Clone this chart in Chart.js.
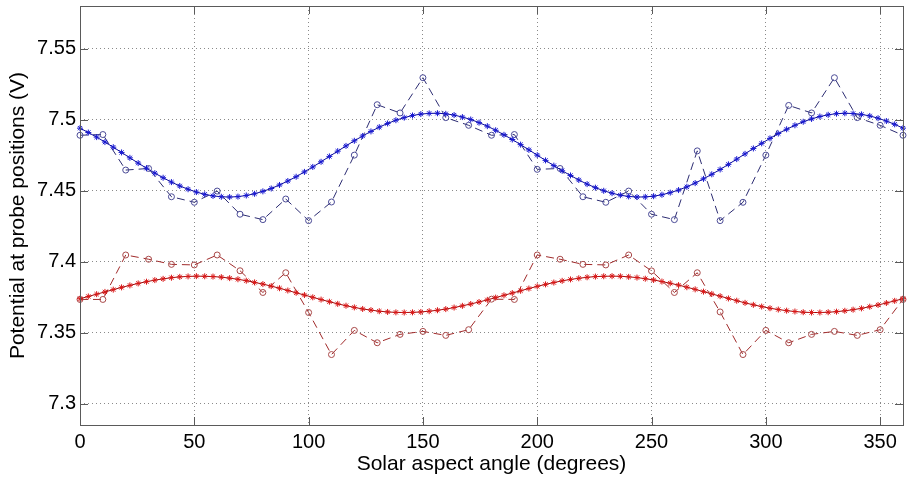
<!DOCTYPE html>
<html>
<head>
<meta charset="utf-8">
<script src="https://cdn.jsdelivr.net/npm/chart.js@4.4.1/dist/chart.umd.min.js"></script>
<style>
  html, body { margin: 0; padding: 0; background: #fff; }
  #plot { display: block; }
</style>
</head>
<body>
<canvas id="plot" width="908" height="477"></canvas>
<script>
// measured every 10 degrees
var angleMeasured = [0, 10, 20, 30, 40, 50, 60, 70, 80, 90, 100, 110, 120, 130, 140, 150, 160, 170, 180,
    190, 200, 210, 220, 230, 240, 250, 260, 270, 280, 290, 300, 310, 320, 330, 340, 350, 360];
var probe1Measured = [7.489, 7.4895, 7.4645, 7.4656, 7.4457, 7.4418, 7.4497, 7.4334, 7.4296, 7.4441, 7.4289,
    7.442, 7.475, 7.5105, 7.5047, 7.5295, 7.5014, 7.496, 7.489, 7.4895, 7.465, 7.4656, 7.4457, 7.4418, 7.4497,
    7.4334, 7.4296, 7.478, 7.4289, 7.4418, 7.475, 7.51, 7.5047, 7.5295, 7.5014, 7.496, 7.489];
var probe2Measured = [7.3734, 7.3734, 7.4047, 7.4017, 7.3981, 7.3977, 7.4047, 7.3936, 7.3783, 7.3922, 7.3642,
    7.3346, 7.3516, 7.3429, 7.3488, 7.3509, 7.3481, 7.3521, 7.3736, 7.3734, 7.4047, 7.4017, 7.3981, 7.3977,
    7.4047, 7.3935, 7.3783, 7.3922, 7.3646, 7.3346, 7.3516, 7.3429, 7.3488, 7.3509, 7.3481, 7.3521, 7.3734];

// fitted curves (star markers)
var angleFit = [0, 3.64, 7.27, 10.91, 14.55, 18.18, 21.82, 25.45, 29.09, 32.73, 36.36, 40, 43.64, 47.27,
    50.91, 54.55, 58.18, 61.82, 65.45, 69.09, 72.73, 76.36, 80, 83.64, 87.27, 90.91, 94.55, 98.18, 101.82,
    105.45, 109.09, 112.73, 116.36, 120, 123.64, 127.27, 130.91, 134.55, 138.18, 141.82, 145.45, 149.09,
    152.73, 156.36, 160, 163.64, 167.27, 170.91, 174.55, 178.18, 181.82, 185.45, 189.09, 192.73, 196.36, 200,
    203.64, 207.27, 210.91, 214.55, 218.18, 221.82, 225.45, 229.09, 232.73, 236.36, 240, 243.64, 247.27,
    250.91, 254.55, 258.18, 261.82, 265.45, 269.09, 272.73, 276.36, 280, 283.64, 287.27, 290.91, 294.55,
    298.18, 301.82, 305.45, 309.09, 312.73, 316.36, 320, 323.64, 327.27, 330.91, 334.55, 338.18, 341.82,
    345.45, 349.09, 352.73, 356.36, 360];
var probe1Fit = [7.4940, 7.4909, 7.4877, 7.4842, 7.4806, 7.4769, 7.4731, 7.4694, 7.4658, 7.4623, 7.4591,
    7.4560, 7.4533, 7.4510, 7.4490, 7.4474, 7.4463, 7.4457, 7.4455, 7.4458, 7.4466, 7.4478, 7.4495, 7.4515,
    7.4540, 7.4568, 7.4598, 7.4632, 7.4667, 7.4703, 7.4741, 7.4778, 7.4815, 7.4851, 7.4885, 7.4917, 7.4947,
    7.4973, 7.4996, 7.5014, 7.5029, 7.5039, 7.5044, 7.5045, 7.5041, 7.5032, 7.5018, 7.5001, 7.4979, 7.4954,
    7.4925, 7.4893, 7.4860, 7.4824, 7.4787, 7.4750, 7.4713, 7.4676, 7.4640, 7.4607, 7.4575, 7.4546, 7.4521,
    7.4499, 7.4482, 7.4468, 7.4459, 7.4455, 7.4456, 7.4461, 7.4471, 7.4486, 7.4504, 7.4527, 7.4553, 7.4583,
    7.4615, 7.4649, 7.4685, 7.4722, 7.4759, 7.4797, 7.4833, 7.4868, 7.4902, 7.4932, 7.4960, 7.4985, 7.5005,
    7.5022, 7.5034, 7.5042, 7.5045, 7.5043, 7.5037, 7.5026, 7.5010, 7.4990, 7.4967, 7.4940];
var probe2Fit = [7.3739, 7.3755, 7.3771, 7.3787, 7.3803, 7.3819, 7.3833, 7.3847, 7.3859, 7.3870, 7.3879,
    7.3887, 7.3893, 7.3896, 7.3898, 7.3897, 7.3895, 7.3891, 7.3884, 7.3876, 7.3866, 7.3854, 7.3842, 7.3828,
    7.3813, 7.3797, 7.3781, 7.3765, 7.3749, 7.3733, 7.3718, 7.3703, 7.3690, 7.3678, 7.3667, 7.3659, 7.3651,
    7.3646, 7.3643, 7.3642, 7.3643, 7.3646, 7.3651, 7.3658, 7.3666, 7.3677, 7.3689, 7.3702, 7.3716, 7.3731,
    7.3747, 7.3763, 7.3779, 7.3795, 7.3811, 7.3826, 7.3840, 7.3853, 7.3865, 7.3875, 7.3883, 7.3890, 7.3895,
    7.3897, 7.3898, 7.3897, 7.3893, 7.3888, 7.3880, 7.3871, 7.3860, 7.3848, 7.3835, 7.3820, 7.3805, 7.3789,
    7.3773, 7.3757, 7.3741, 7.3725, 7.3710, 7.3696, 7.3684, 7.3672, 7.3663, 7.3655, 7.3649, 7.3644, 7.3642,
    7.3642, 7.3644, 7.3648, 7.3654, 7.3662, 7.3671, 7.3683, 7.3695, 7.3709, 7.3724, 7.3739];

function pairs(xs, ys) {
    return xs.map(function (x, i) { return { x: x, y: ys[i] }; });
}

var tickFont = { family: "'Liberation Sans', Arial, sans-serif", size: 20 };
var labelFont = { family: "'Liberation Sans', Arial, sans-serif", size: 21 };

// matlab style box with inward ticks
var axesBox = {
    id: 'axesBox',
    afterDraw: function (chart) {
        var a = chart.chartArea, c = chart.ctx;
        var xs = chart.scales.x, ys = chart.scales.y;
        c.save();
        c.strokeStyle = '#5a5a5a';
        c.lineWidth = 1;
        c.beginPath();
        xs.ticks.forEach(function (t) {
            var px = Math.round(xs.getPixelForValue(t.value)) + 0.5;
            c.moveTo(px, a.bottom); c.lineTo(px, a.bottom - 8);
            c.moveTo(px, a.top); c.lineTo(px, a.top + 8);
        });
        ys.ticks.forEach(function (t) {
            var py = Math.round(ys.getPixelForValue(t.value)) + 0.5;
            c.moveTo(a.left, py); c.lineTo(a.left + 8, py);
            c.moveTo(a.right, py); c.lineTo(a.right - 8, py);
        });
        c.stroke();
        c.strokeRect(Math.round(a.left) + 0.5, Math.round(a.top) + 0.5,
            Math.round(a.right - a.left), Math.round(a.bottom - a.top));
        c.restore();
    }
};

new Chart(document.getElementById('plot').getContext('2d'), {
    type: 'line',
    data: {
        datasets: [{
            data: pairs(angleFit, probe1Fit),
            borderColor: '#0a0a9a',
            borderWidth: 1,
            pointStyle: 'star',
            pointRadius: 3,
            pointBorderColor: '#1818d0',
            pointBorderWidth: 1,
            fill: false
        }, {
            data: pairs(angleFit, probe2Fit),
            borderColor: '#a00a0a',
            borderWidth: 1,
            pointStyle: 'star',
            pointRadius: 3,
            pointBorderColor: '#d81818',
            pointBorderWidth: 1,
            fill: false
        }, {
            data: pairs(angleMeasured, probe1Measured),
            borderColor: '#2c2c72',
            borderWidth: 1,
            borderDash: [8, 5],
            pointStyle: 'circle',
            pointRadius: 3,
            pointBorderColor: '#4a4a96',
            pointBackgroundColor: 'rgba(0,0,0,0)',
            pointBorderWidth: 1,
            fill: false
        }, {
            data: pairs(angleMeasured, probe2Measured),
            borderColor: '#a02a2a',
            borderWidth: 1,
            borderDash: [8, 5],
            pointStyle: 'circle',
            pointRadius: 3,
            pointBorderColor: '#a84848',
            pointBackgroundColor: 'rgba(0,0,0,0)',
            pointBorderWidth: 1,
            fill: false
        }]
    },
    options: {
        responsive: false,
        animation: false,
        clip: false,
        layout: { padding: { top: 6, right: 0, left: 0, bottom: 0 } },
        plugins: { legend: { display: false }, tooltip: { enabled: false } },
        scales: {
            x: {
                type: 'linear',
                min: 0,
                max: 360,
                afterFit: function (s) { s.height = 52; s.paddingLeft = 0; s.paddingRight = 0; },
                ticks: { stepSize: 50, includeBounds: false, color: '#000', font: tickFont, padding: 5, maxRotation: 0 },
                grid: { color: '#8a8a8a', lineWidth: 1, drawTicks: false },
                border: { display: false, dash: [1, 3] },
                title: { display: true, text: 'Solar aspect angle (degrees)', color: '#000', font: labelFont, padding: { top: -4, bottom: 0 } }
            },
            y: {
                min: 7.285,
                max: 7.58,
                afterFit: function (s) { s.width = 80; s.paddingTop = 0; s.paddingBottom = 0; },
                ticks: {
                    stepSize: 0.05, includeBounds: false, color: '#000', font: tickFont, padding: 4,
                    callback: function (v) { return String(parseFloat(v.toFixed(2))); }
                },
                grid: { color: '#8a8a8a', lineWidth: 1, drawTicks: false },
                border: { display: false, dash: [1, 3] },
                title: { display: true, text: 'Potential at probe positions (V)', color: '#000', font: labelFont, padding: { top: 6, bottom: 0 } }
            }
        }
    },
    plugins: [axesBox]
});
</script>
</body>
</html>
